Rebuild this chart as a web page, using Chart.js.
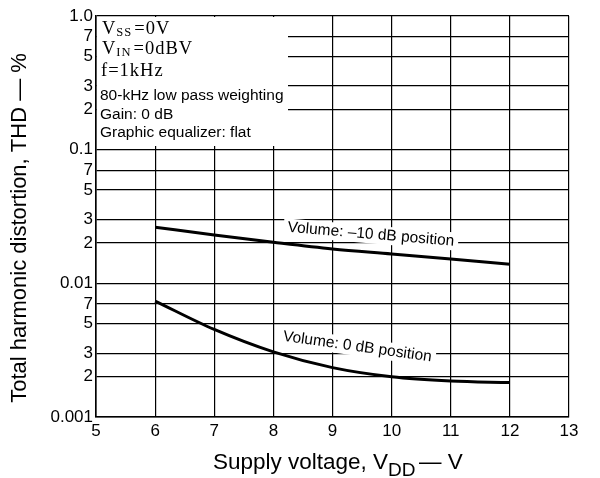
<!DOCTYPE html>
<html>
<head>
<meta charset="utf-8">
<script src="https://cdn.jsdelivr.net/npm/chart.js@4.4.0/dist/chart.umd.min.js"></script>
<style>
  html, body { margin: 0; padding: 0; background: #fff; }
  #wrap { width: 600px; height: 478px; }
</style>
</head>
<body>
<div id="wrap"><canvas id="thd-chart" width="600" height="478"></canvas></div>
<script>
// Supply voltage V_DD (V)
const voltages = [6, 7, 8, 9, 10, 11, 12];
// THD (%)
const thdMinus10dB = [0.0263, 0.0230, 0.0203, 0.0181, 0.0166, 0.0152, 0.0139];
const thd0dB = [0.00737, 0.00452, 0.00307, 0.00234, 0.0020, 0.00186, 0.00181];

// Axis ticks
const xTickValues = [5, 6, 7, 8, 9, 10, 11, 12, 13];
const yTickValues = [0.001, 0.002, 0.003, 0.005, 0.007, 0.01, 0.02, 0.03, 0.05, 0.07, 0.1, 0.2, 0.3, 0.5, 0.7, 1.0];
const yTickLabels = ['0.001', '2', '3', '5', '7', '0.01', '2', '3', '5', '7', '0.1', '2', '3', '5', '7', '1.0'];

// Texts
const curveNames = ['Volume: \u201310 dB position', 'Volume: 0 dB position'];
const conditionLines = ['80-kHz low pass weighting', 'Gain: 0 dB', 'Graphic equalizer: flat'];
const xTitle = ['Supply voltage, V', 'DD', '\u2014 V'];
const yTitle = 'Total harmonic distortion, THD \u2014 %';

const SANS = '"Liberation Sans", Arial, Helvetica, sans-serif';
const SERIF = '"Liberation Serif", "Times New Roman", serif';

function toPoints(ys) {
    return voltages.map((v, i) => ({ x: v, y: ys[i] }));
}

function labelSpots(chart) {
    const xs = chart.scales.x, ys = chart.scales.y;
    const ctx = chart.ctx;
    ctx.save();
    ctx.font = '15.5px ' + SANS;
    const w0 = ctx.measureText(curveNames[0]).width;
    const w1 = ctx.measureText(curveNames[1]).width;
    ctx.restore();
    return [
        { text: curveNames[0], x: xs.getPixelForValue(9.65), y: ys.getPixelForValue(0.0232), angle: 4.8 * Math.PI / 180, w: w0 },
        { text: curveNames[1], x: xs.getPixelForValue(9.42), y: ys.getPixelForValue(0.00335), angle: 8 * Math.PI / 180, w: w1 }
    ];
}

// white patches behind the conditions box and the curve labels (hide the grid)
const backgroundPatches = {
    id: 'backgroundPatches',
    beforeDatasetsDraw(chart) {
        const ctx = chart.ctx;
        const a = chart.chartArea;
        ctx.save();
        ctx.fillStyle = '#fff';
        ctx.fillRect(a.left + 1, a.top + 1, 287 - a.left, 145 - a.top);
        labelSpots(chart).forEach(s => {
            ctx.save();
            ctx.translate(s.x, s.y);
            ctx.rotate(s.angle);
            ctx.fillRect(-s.w / 2 - 4, -9, s.w + 8, 18);
            ctx.restore();
        });
        ctx.restore();
    }
};

// texts: conditions, curve labels, axis titles
const chartTexts = {
    id: 'chartTexts',
    afterDraw(chart) {
        const ctx = chart.ctx;
        ctx.save();
        ctx.fillStyle = '#000';
        ctx.textBaseline = 'alphabetic';
        ctx.textAlign = 'left';

        // serif condition lines with subscripts
        function subLine(x, y, main, sub, rest) {
            ctx.font = '18.5px ' + SERIF;
            ctx.fillText(main, x, y);
            x += ctx.measureText(main).width;
            ctx.font = '12.5px ' + SERIF;
            ctx.fillText(sub, x, y + 2);
            x += ctx.measureText(sub).width + 2;
            ctx.font = '18.5px ' + SERIF;
            ctx.fillText(rest, x, y);
        }
        ctx.letterSpacing = '1px';
        subLine(102, 33.5, 'V', 'SS', '=0V');
        subLine(102, 54, 'V', 'IN', '=0dBV');
        ctx.font = '18.5px ' + SERIF;
        ctx.fillText('f=1kHz', 101, 75.5);
        ctx.letterSpacing = '0px';

        ctx.font = '15.5px ' + SANS;
        conditionLines.forEach((t, i) => ctx.fillText(t, 100, 100 + i * 18.5));

        // curve labels
        ctx.textAlign = 'center';
        ctx.textBaseline = 'middle';
        labelSpots(chart).forEach(s => {
            ctx.save();
            ctx.translate(s.x, s.y);
            ctx.rotate(s.angle);
            ctx.font = '15.5px ' + SANS;
            ctx.fillText(s.text, 0, 0);
            ctx.restore();
        });

        // y title
        ctx.save();
        ctx.translate(20, 228);
        ctx.rotate(-Math.PI / 2);
        ctx.font = '22px ' + SANS;
        ctx.fillText(yTitle, 0, 0);
        ctx.restore();

        // x title with subscript
        ctx.textAlign = 'left';
        ctx.textBaseline = 'alphabetic';
        ctx.font = '22.5px ' + SANS;
        ctx.fillText(xTitle[0], 213, 469);
        const afterV = 213 + ctx.measureText(xTitle[0]).width;
        ctx.font = '19px ' + SANS;
        ctx.fillText(xTitle[1], afterV, 476);
        ctx.font = '22.5px ' + SANS;
        ctx.fillText(xTitle[2], afterV + 31, 469);
        ctx.restore();
    }
};

const thdChart = new Chart(document.getElementById('thd-chart'), {
    type: 'line',
    data: {
        datasets: [
            { data: toPoints(thdMinus10dB), borderColor: '#000', borderWidth: 3, pointRadius: 0, tension: 0.4, cubicInterpolationMode: 'monotone' },
            { data: toPoints(thd0dB), borderColor: '#000', borderWidth: 3, pointRadius: 0, tension: 0.4, cubicInterpolationMode: 'monotone' }
        ]
    },
    options: {
        responsive: false,
        animation: false,
        layout: { padding: { top: 16, right: 31, left: 0, bottom: 0 } },
        plugins: { legend: { display: false }, tooltip: { enabled: false } },
        scales: {
            x: {
                type: 'linear',
                min: 5,
                max: 13,
                afterBuildTicks: s => { s.ticks = xTickValues.map(v => ({ value: v })); },
                afterFit: s => { s.height = 61; },
                grid: { color: '#000', lineWidth: 1.2, drawTicks: false },
                border: { color: '#000', width: 1.6 },
                ticks: { color: '#000', font: { family: SANS, size: 17 }, padding: 4, autoSkip: false, maxRotation: 0 }
            },
            y: {
                type: 'logarithmic',
                min: 0.001,
                max: 1,
                afterBuildTicks: s => { s.ticks = yTickValues.map(v => ({ value: v })); },
                afterFit: s => { s.width = 96; },
                grid: { color: '#000', lineWidth: 1.2, drawTicks: false },
                border: { color: '#000', width: 1.6 },
                ticks: {
                    color: '#000',
                    font: { family: SANS, size: 17 },
                    padding: 3,
                    autoSkip: false,
                    callback: (v, i) => yTickLabels[i]
                }
            }
        }
    },
    plugins: [backgroundPatches, chartTexts]
});
</script>
</body>
</html>
